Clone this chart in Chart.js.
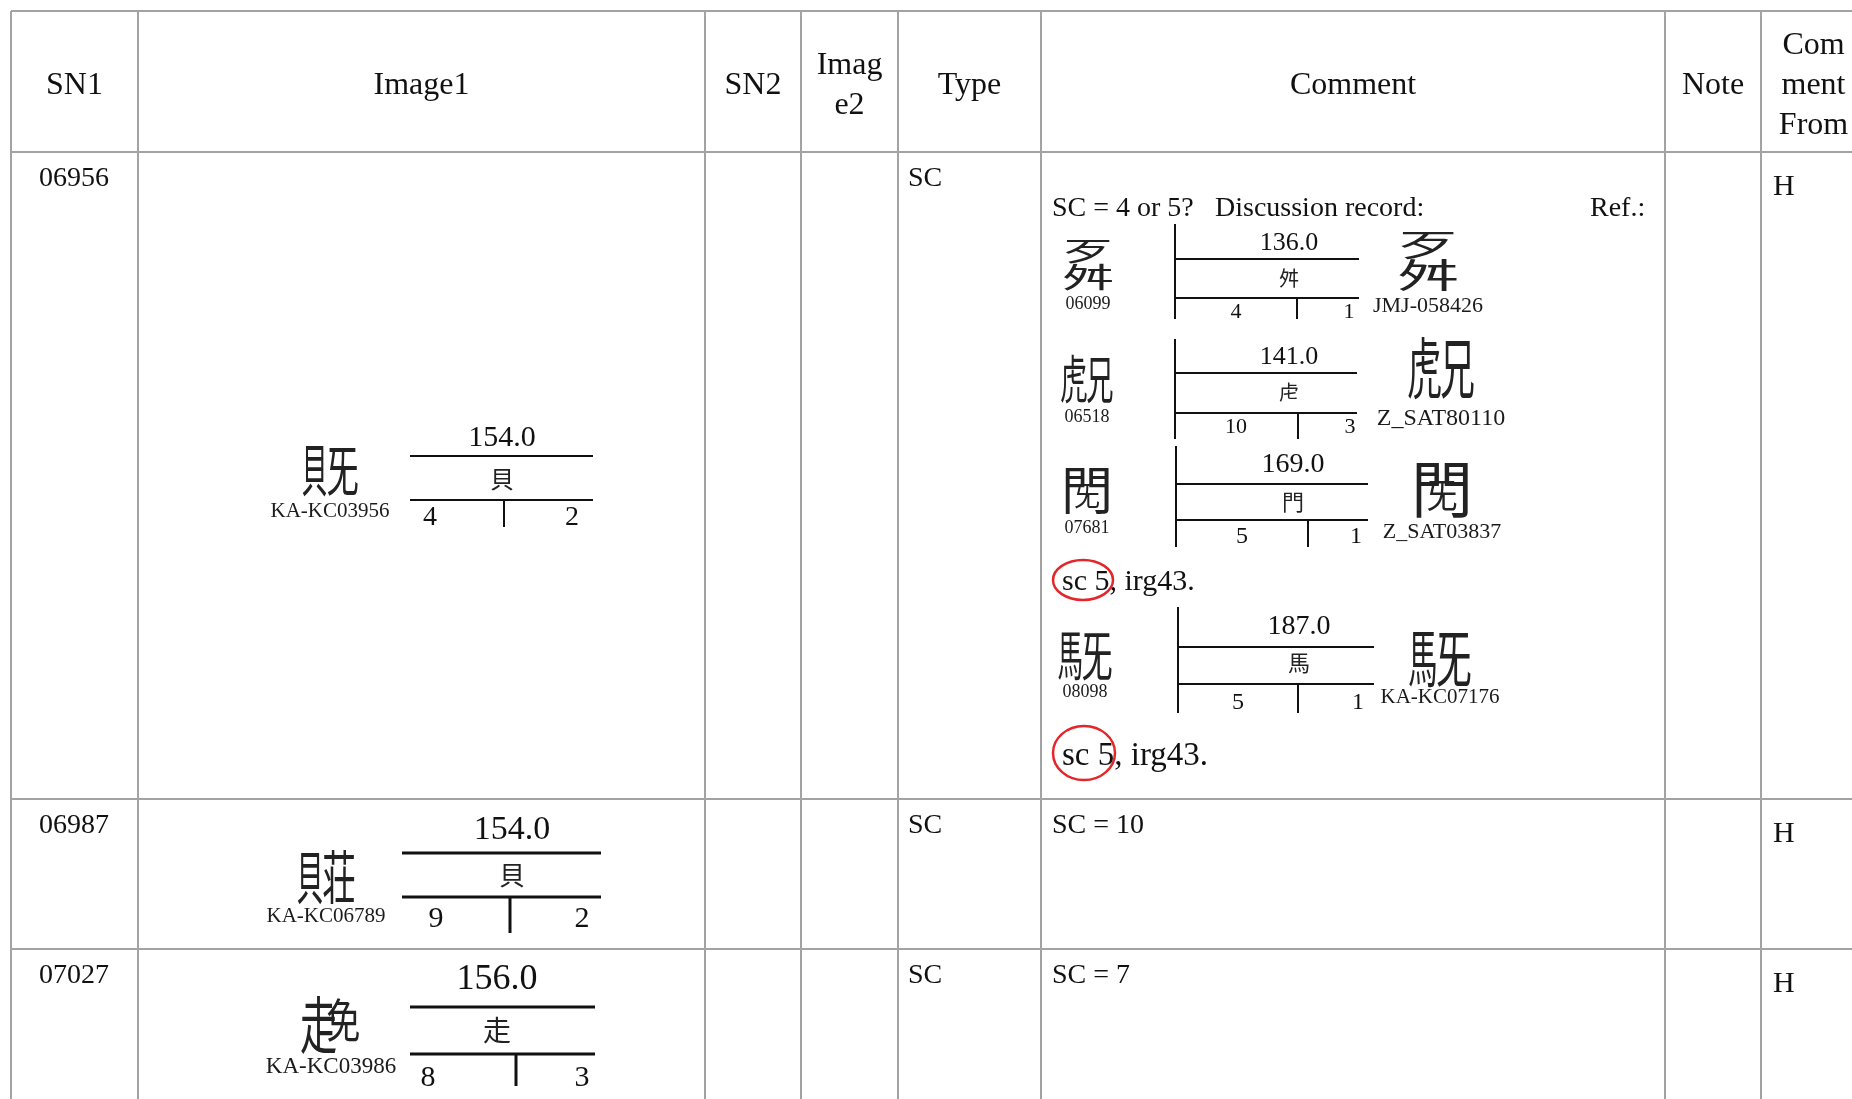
<!DOCTYPE html>
<html>
<head>
<meta charset="utf-8">
<title>IRG review table</title>
<script src="https://cdn.jsdelivr.net/npm/chart.js@4"></script>
<style>
  html, body { margin: 0; padding: 0; background: #fff; }
  canvas { display: block; }
</style>
</head>
<body>
<canvas id="sheet" width="1852" height="1099"></canvas>
<script>
// Table content
const headers = [['SN1'], ['Image1'], ['SN2'], ['Imag', 'e2'], ['Type'], ['Comment'], ['Note'], ['Com', 'ment', 'From']];
const sn1 = ['06956', '06987', '07027'];
const types = ['SC', 'SC', 'SC'];
const commentFrom = ['H', 'H', 'H'];
const sourceIds = ['KA-KC03956', 'KA-KC06789', 'KA-KC03986'];
const radicalValues = ['154.0', '154.0', '156.0'];
const radicals = ['貝', '貝', '走'];
const strokesLeft = ['4', '9', '8'];
const strokesRight = ['2', '2', '3'];
const rowGlyphs = [['lr', '貝', '旡', 0.45], ['lr', '貝', '荘', 0.45], ['wrap', '走', '免']];
const shortComments = ['', 'SC = 10', 'SC = 7'];

// Row 1 comment: discussion record
const commentHead = ['SC = 4 or 5?', 'Discussion record:', 'Ref.:'];
const refSn = ['06099', '06518', '07681', '08098'];
const refSources = ['JMJ-058426', 'Z_SAT80110', 'Z_SAT03837', 'KA-KC07176'];
const refRadicalValues = ['136.0', '141.0', '169.0', '187.0'];
const refRadicals = ['舛', '虍', '門', '馬'];
const refStrokesLeft = ['4', '10', '5', '5'];
const refStrokesRight = ['1', '3', '1', '1'];
const refGlyphs = [['tb', '歹', '舛', 0.48], ['lr', '虎', '兄', 0.5], ['enc', '門', '旡'], ['lr', '馬', '旡', 0.45]];
const irgNote = ['sc 5', ', irg43.'];

// Layout (chart value space == page pixels)
const colEdges = [11, 138, 705, 801, 898, 1041, 1665, 1761, 1866];
const rowEdges = [11, 152, 799, 949, 1120];

const rowDiagrams = [
    { gx: 330, gy: 470, gs: 56, ly: 511, ls: 21, x0: 410, x1: 593, y1: 456, y2: 500, yEnd: 527, div: 504, vx: 502, vy: 438, vs: 30, ry: 479, rs: 24, ny: 518, nl: 430, nr: 572, ns: 28, lw: 2 },
    { gx: 326, gy: 877, gs: 58, ly: 916, ls: 21, x0: 402, x1: 601, y1: 853, y2: 897, yEnd: 933, div: 510, vx: 512, vy: 830, vs: 34, ry: 875, rs: 26, ny: 919, nl: 436, nr: 582, ns: 30, lw: 3 },
    { gx: 331, gy: 1025, gs: 62, ly: 1067, ls: 23, x0: 410, x1: 595, y1: 1007, y2: 1054, yEnd: 1086, div: 516, vx: 497, vy: 980, vs: 36, ry: 1030, rs: 28, ny: 1078, nl: 428, nr: 582, ns: 30, lw: 3 }
];

const refDiagrams = [
    { gx: 1088, gy: 265, gs: 52, ly: 304, bx: 1175, yTop: 224, yEnd: 319, x1: 1359, y1: 259, y2: 298, div: 1297, vx: 1289, vy: 243, vs: 26, ry: 278, rs: 20, ny: 312, nl: 1236, nr: 1349, ns: 22, rgx: 1428, rgy: 260, rgs: 62, rly: 306, rls: 22 },
    { gx: 1087, gy: 379, gs: 52, ly: 417, bx: 1175, yTop: 339, yEnd: 439, x1: 1357, y1: 373, y2: 413, div: 1298, vx: 1289, vy: 357, vs: 26, ry: 392, rs: 20, ny: 427, nl: 1236, nr: 1350, ns: 22, rgx: 1441, rgy: 368, rgs: 66, rly: 419, rls: 24 },
    { gx: 1087, gy: 490, gs: 52, ly: 528, bx: 1176, yTop: 446, yEnd: 547, x1: 1368, y1: 484, y2: 520, div: 1308, vx: 1293, vy: 465, vs: 28, ry: 502, rs: 22, ny: 537, nl: 1242, nr: 1356, ns: 24, rgx: 1442, rgy: 489, rgs: 62, rly: 532, rls: 22 },
    { gx: 1085, gy: 655, gs: 54, ly: 692, bx: 1178, yTop: 607, yEnd: 713, x1: 1374, y1: 647, y2: 684, div: 1298, vx: 1299, vy: 627, vs: 28, ry: 663, rs: 22, ny: 703, nl: 1238, nr: 1358, ns: 24, rgx: 1440, rgy: 658, rgs: 62, rly: 697, rls: 21 }
];

const irgLines = [
    { x: 1062, y: 582, s: 30, ex: 1083, ey: 580, rx: 30, ry: 20 },
    { x: 1062, y: 756, s: 33, ex: 1084, ey: 753, rx: 31, ry: 27 }
];

const SERIF = '"Liberation Serif", "DejaVu Serif", serif';
const CJK = '"Noto Sans CJK TC", "Noto Sans CJK SC", sans-serif';
const GRID = '#a3a3a3';
const INK = '#111';

const tablePlugin = {
    id: 'reviewTable',
    beforeDraw(chart) {
        const c = chart.ctx;
        c.save();
        c.fillStyle = '#fff';
        c.fillRect(0, 0, chart.width, chart.height);
        c.restore();
    },
    afterDraw(chart) {
        const c = chart.ctx;
        const X = v => chart.scales.x.getPixelForValue(v);
        const Y = v => chart.scales.y.getPixelForValue(v);

        function line(x0, y0, x1, y1, color, w) {
            c.beginPath();
            c.strokeStyle = color;
            c.lineWidth = w;
            c.moveTo(X(x0), Y(y0));
            c.lineTo(X(x1), Y(y1));
            c.stroke();
        }

        function text(str, x, y, size, align, font, color) {
            c.font = size + 'px ' + (font || SERIF);
            c.fillStyle = color || INK;
            c.textAlign = align || 'center';
            c.textBaseline = 'middle';
            c.fillText(str, X(x), Y(y));
        }

        // composed ideographs (not in Unicode), built from components
        function glyph(spec, cx, cy, size) {
            c.font = size + 'px ' + CJK;
            c.fillStyle = '#222';
            c.textAlign = 'center';
            c.textBaseline = 'middle';
            const part = (ch, dx, dy, sx, sy) => {
                c.save();
                c.translate(X(cx) + dx * size, Y(cy) + dy * size);
                c.scale(sx, sy);
                c.fillText(ch, 0, 0);
                c.restore();
            };
            const r = spec[3];
            if (spec[0] === 'lr') {
                part(spec[1], -0.5 + r / 2, 0, r * 1.05, 1);
                part(spec[2], r / 2, 0, (1 - r) * 1.05, 1);
            } else if (spec[0] === 'tb') {
                part(spec[1], 0, -0.5 + r / 2, 1, r * 1.05);
                part(spec[2], 0, r / 2, 1, (1 - r) * 1.05);
            } else if (spec[0] === 'enc') {
                part(spec[1], 0, 0, 1, 1);
                part(spec[2], 0, 0.1, 0.5, 0.55);
            } else {
                part(spec[1], -0.2, 0, 0.6, 1);
                part(spec[2], 0.2, -0.08, 0.55, 0.75);
            }
        }

        // grid
        rowEdges.forEach(y => line(colEdges[0], y, colEdges[colEdges.length - 1], y, GRID, 2));
        colEdges.forEach(x => line(x, rowEdges[0], x, rowEdges[rowEdges.length - 1], GRID, 2));

        // header
        const hMid = (rowEdges[0] + rowEdges[1]) / 2 + 4;
        headers.forEach((lines, i) => {
            const cx = (colEdges[i] + colEdges[i + 1]) / 2;
            lines.forEach((t, k) => {
                text(t, cx, hMid + (k - (lines.length - 1) / 2) * 40, 32);
            });
        });

        // body rows
        sn1.forEach((sn, i) => {
            const top = rowEdges[i + 1];
            text(sn, 39, top + 27, 28, 'left');
            text(types[i], 908, top + 27, 28, 'left');
            text(commentFrom[i], 1773, top + 35, 30, 'left');
            if (shortComments[i]) text(shortComments[i], 1052, top + 27, 28, 'left');

            const d = rowDiagrams[i];
            glyph(rowGlyphs[i], d.gx, d.gy, d.gs);
            text(sourceIds[i], d.gx, d.ly, d.ls, 'center', SERIF, '#1b1b1b');
            text(radicalValues[i], d.vx, d.vy, d.vs);
            line(d.x0, d.y1, d.x1, d.y1, '#111', d.lw);
            line(d.x0, d.y2, d.x1, d.y2, '#111', d.lw);
            line(d.div, d.y2, d.div, d.yEnd, '#111', d.lw);
            text(radicals[i], d.vx, d.ry, d.rs, 'center', CJK, '#222');
            text(strokesLeft[i], d.nl, d.ny, d.ns);
            text(strokesRight[i], d.nr, d.ny, d.ns);
        });

        // discussion record in row 1 comment
        text(commentHead[0], 1052, 209, 28, 'left');
        text(commentHead[1], 1215, 209, 28, 'left');
        text(commentHead[2], 1590, 209, 28, 'left');

        refDiagrams.forEach((d, i) => {
            glyph(refGlyphs[i], d.gx, d.gy, d.gs);
            text(refSn[i], d.gx, d.ly, 18, 'center', SERIF, '#1b1b1b');
            line(d.bx, d.yTop, d.bx, d.yEnd, '#111', 2);
            line(d.bx, d.y1, d.x1, d.y1, '#111', 2);
            line(d.bx, d.y2, d.x1, d.y2, '#111', 2);
            line(d.div, d.y2, d.div, d.yEnd, '#111', 2);
            text(refRadicalValues[i], d.vx, d.vy, d.vs);
            text(refRadicals[i], d.vx, d.ry, d.rs, 'center', CJK, '#222');
            text(refStrokesLeft[i], d.nl, d.ny, d.ns);
            text(refStrokesRight[i], d.nr, d.ny, d.ns);
            glyph(refGlyphs[i], d.rgx, d.rgy, d.rgs);
            text(refSources[i], d.rgx, d.rly, d.rls, 'center', SERIF, '#1b1b1b');
        });

        irgLines.forEach(n => {
            c.font = n.s + 'px ' + SERIF;
            const w = c.measureText(irgNote[0]).width;
            text(irgNote[0], n.x, n.y, n.s, 'left');
            text(irgNote[1], n.x + w, n.y, n.s, 'left');
            c.beginPath();
            c.strokeStyle = '#e3262a';
            c.lineWidth = 2.5;
            c.ellipse(X(n.ex), Y(n.ey), n.rx, n.ry, 0, 0, Math.PI * 2);
            c.stroke();
        });
    }
};

new Chart(document.getElementById('sheet'), {
    type: 'scatter',
    data: { datasets: [] },
    options: {
        responsive: false,
        animation: false,
        devicePixelRatio: 1,
        layout: { padding: 0 },
        plugins: {
            legend: { display: false },
            tooltip: { enabled: false }
        },
        scales: {
            x: { type: 'linear', min: 0, max: 1852, display: false },
            y: { type: 'linear', min: 0, max: 1099, reverse: true, display: false }
        }
    },
    plugins: [tablePlugin]
});
</script>
</body>
</html>
